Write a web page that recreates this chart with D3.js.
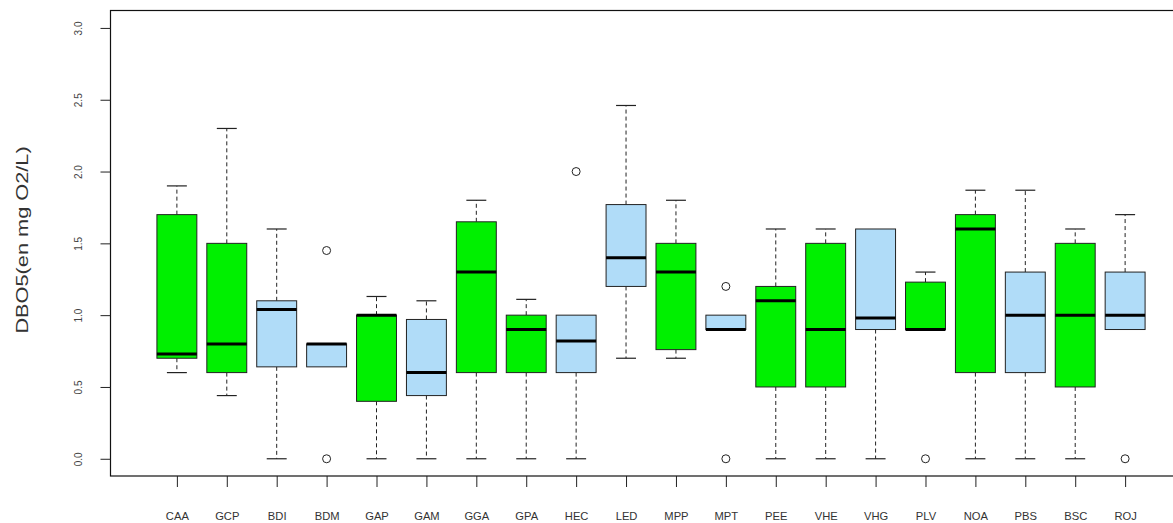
<!DOCTYPE html>
<html><head><meta charset="utf-8">
<script src="https://cdn.jsdelivr.net/npm/d3@7"></script>
<style>body{margin:0;background:#fff;}svg{display:block;}</style>
</head><body>
<svg id="c" width="1173" height="523"></svg>
<script>
const categories = ["CAA","GCP","BDI","BDM","GAP","GAM","GGA","GPA","HEC","LED","MPP","MPT","PEE","VHE","VHG","PLV","NOA","PBS","BSC","ROJ"];
const groupType = ["g","g","b","b","g","b","g","g","b","b","g","b","g","g","b","g","g","b","g","b"];
const whiskerLow  = [0.60,0.44,0.00,0.64,0.00,0.00,0.00,0.00,0.00,0.70,0.70,0.90,0.00,0.00,0.00,0.90,0.00,0.00,0.00,0.90];
const q1          = [0.70,0.60,0.64,0.64,0.40,0.44,0.60,0.60,0.60,1.20,0.76,0.90,0.50,0.50,0.90,0.90,0.60,0.60,0.50,0.90];
const medians     = [0.73,0.80,1.04,0.80,1.00,0.60,1.30,0.90,0.82,1.40,1.30,0.90,1.10,0.90,0.98,0.90,1.60,1.00,1.00,1.00];
const q3          = [1.70,1.50,1.10,0.80,1.00,0.97,1.65,1.00,1.00,1.77,1.50,1.00,1.20,1.50,1.60,1.23,1.70,1.30,1.50,1.30];
const whiskerHigh = [1.90,2.30,1.60,0.80,1.13,1.10,1.80,1.11,1.00,2.46,1.80,1.00,1.60,1.60,1.60,1.30,1.87,1.87,1.60,1.70];
const outliers = [[],[],[],[1.45,0],[],[],[],[],[2.0],[],[],[1.2,0],[],[],[],[0],[],[],[],[0]];
const yTicks = [0,0.5,1,1.5,2,2.5,3];
const yLabel = "DBO5(en mg O2/L)";

const colors = {g:"#00f000", b:"#b0dcf8"};
const svg = d3.select("#c");
const x = d3.scaleLinear().domain([-0.3, 21.3]).range([112, 1190]);
const y = d3.scaleLinear().domain([-0.12, 3.12]).range([476, 10.7]);
const unit = x(1) - x(0);
const boxW = unit * 0.8, capW = unit * 0.4;

const data = categories.map((c,i)=>({c, t:groupType[i], lo:whiskerLow[i], q1:q1[i], med:medians[i], q3:q3[i], hi:whiskerHigh[i], out:outliers[i], pos:i+1}));

const g = svg.append("g");
data.forEach(d=>{
  const cx = x(d.pos);
  const gg = g.append("g");
  if (d.hi > d.q3) {
    gg.append("line").attr("x1",cx).attr("x2",cx).attr("y1",y(d.q3)).attr("y2",y(d.hi))
      .attr("stroke","#222").attr("stroke-width",1).attr("stroke-dasharray","4,3");
    gg.append("line").attr("x1",cx-capW/2).attr("x2",cx+capW/2).attr("y1",y(d.hi)).attr("y2",y(d.hi))
      .attr("stroke","#222").attr("stroke-width",1.2);
  }
  if (d.lo < d.q1) {
    gg.append("line").attr("x1",cx).attr("x2",cx).attr("y1",y(d.q1)).attr("y2",y(d.lo))
      .attr("stroke","#222").attr("stroke-width",1).attr("stroke-dasharray","4,3");
    gg.append("line").attr("x1",cx-capW/2).attr("x2",cx+capW/2).attr("y1",y(d.lo)).attr("y2",y(d.lo))
      .attr("stroke","#222").attr("stroke-width",1.2);
  }
  gg.append("rect").attr("x",cx-boxW/2).attr("width",boxW)
    .attr("y",y(d.q3)).attr("height",y(d.q1)-y(d.q3))
    .attr("fill",colors[d.t]).attr("stroke","#222").attr("stroke-width",1);
  gg.append("line").attr("x1",cx-boxW/2).attr("x2",cx+boxW/2).attr("y1",y(d.med)).attr("y2",y(d.med))
    .attr("stroke","#000").attr("stroke-width",3);
  d.out.forEach(o=>{
    gg.append("circle").attr("cx",cx).attr("cy",y(o)).attr("r",4)
      .attr("fill","none").attr("stroke","#222").attr("stroke-width",1);
  });
});

// frame
svg.append("rect").attr("x",110.5).attr("y",10.5).attr("width",x.range()[1]-110.5).attr("height",476-10.5)
  .attr("fill","none").attr("stroke","#111").attr("stroke-width",1.2);

// y axis
const ya = svg.append("g").attr("transform",`translate(110.5,0)`)
  .call(d3.axisLeft(y).tickValues(yTicks).tickFormat(d3.format(".1f")).tickSize(10).tickPadding(0));
ya.select(".domain").remove();
ya.selectAll(".tick line").attr("stroke","#222");
ya.selectAll(".tick text").attr("transform","translate(-32,0) rotate(-90)").attr("text-anchor","middle")
  .attr("x",0).attr("dy","0.35em").attr("font-family","Liberation Sans, Arial, sans-serif").attr("font-size",10).attr("fill","#444");

// x axis
const xa = svg.append("g").attr("transform","translate(0,476)")
  .call(d3.axisBottom(x).tickValues(data.map(d=>d.pos)).tickFormat((v,i)=>categories[i]).tickSize(11).tickPadding(26));
xa.select(".domain").remove();
xa.selectAll(".tick line").attr("stroke","#222");
xa.selectAll(".tick text").attr("transform","scale(1.12,1)").attr("font-family","Liberation Sans, Arial, sans-serif").attr("font-size",10).attr("fill","#333");

// y label
svg.append("text").attr("transform",`translate(28,240) rotate(-90) scale(1.36,1)`).attr("text-anchor","middle")
  .attr("font-family","Liberation Sans, Arial, sans-serif").attr("font-size",16).attr("fill","#333").text(yLabel);
</script>
</body></html>
